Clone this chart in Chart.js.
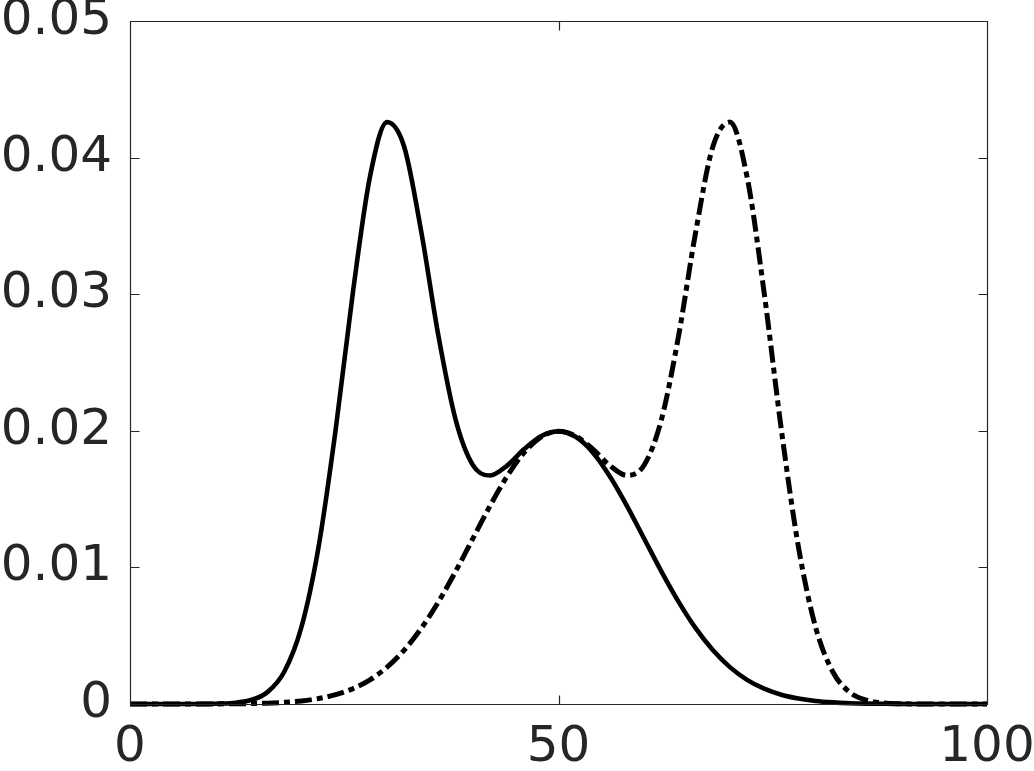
<!DOCTYPE html>
<html lang="en">
<head>
  <meta charset="UTF-8">
  <title>Two densities</title>
  <script src="https://cdn.jsdelivr.net/npm/chart.js"></script>
  <style>
    html, body {
      margin: 0;
      padding: 0;
      background: #fff;
    }
    #wrap {
      width: 1034px;
      height: 771px;
      position: relative;
    }
  </style>
</head>
<body>
<div id="wrap"><canvas id="chart" width="1034" height="771"></canvas></div>
<script>
// x positions (step 2)
const xs = [0, 2, 4, 6, 8, 10, 12, 14, 16, 18, 20, 22, 24, 26, 28, 30, 32, 34, 36, 38, 40,
  42, 44, 46, 48, 50, 52, 54, 56, 58, 60, 62, 64, 66, 68, 70, 72, 74, 76, 78, 80,
  82, 84, 86, 88, 90, 92, 94, 96, 98, 100];

// solid curve (peak near 30)
const solidVals = [0, 0, 0, 0, 0.000005, 0.00002, 0.000076, 0.00027, 0.00085, 0.00236, 0.00562,
  0.01149, 0.0201, 0.03009, 0.0386, 0.0426, 0.04078, 0.03452, 0.02691, 0.0208, 0.0175,
  0.01673, 0.01745, 0.01866, 0.01962, 0.01996, 0.01956, 0.01842, 0.01666, 0.01449, 0.0121,
  0.00971, 0.00749, 0.00555, 0.00395, 0.0027, 0.00177, 0.00112, 0.00068, 0.0004, 0.00022,
  0.00012, 0.00006, 0.00003, 0.000015, 0.000007, 0, 0, 0, 0, 0];

// dash-dot curve (peak near 70)
const dashVals = [0, 0, 0, 0, 0, 0.000007, 0.000015, 0.00003, 0.00006, 0.00012, 0.00022,
  0.0004, 0.00068, 0.00112, 0.00177, 0.0027, 0.00395, 0.00555, 0.00749, 0.00971, 0.0121,
  0.01449, 0.01666, 0.01842, 0.01956, 0.01996, 0.01962, 0.01866, 0.01745, 0.01673, 0.0175,
  0.0208, 0.02691, 0.03452, 0.04078, 0.0426, 0.0386, 0.03009, 0.0201, 0.01149, 0.00562,
  0.00236, 0.00085, 0.00027, 0.000076, 0.00002, 0.000005, 0, 0, 0, 0];

const xTicks = [0, 50, 100];
const yTicks = [0, 0.01, 0.02, 0.03, 0.04, 0.05];

const textColor = '#262626';
const fontSpec = { family: "'DejaVu Sans', sans-serif", size: 50 };

// box and inward tick marks on all four sides
const boxTicks = {
  id: 'boxTicks',
  afterDatasetsDraw(chart) {
    const { ctx, chartArea: a, scales } = chart;
    const L = Math.round(a.left) + 0.5, R = Math.round(a.right) + 0.5;
    const T = Math.round(a.top) + 0.5, B = Math.round(a.bottom) + 0.5;
    ctx.save();
    ctx.strokeStyle = textColor;
    ctx.lineWidth = 1.2;
    ctx.beginPath();
    ctx.rect(L, T, R - L, B - T);
    const len = 9;
    xTicks.forEach(v => {
      const px = Math.round(scales.x.getPixelForValue(v)) + 0.5;
      ctx.moveTo(px, B); ctx.lineTo(px, B - len);
      ctx.moveTo(px, T); ctx.lineTo(px, T + len);
    });
    yTicks.forEach(v => {
      const py = Math.round(scales.y.getPixelForValue(v)) + 0.5;
      ctx.moveTo(L, py); ctx.lineTo(L + len, py);
      ctx.moveTo(R, py); ctx.lineTo(R - len, py);
    });
    ctx.stroke();
    ctx.restore();
  }
};

new Chart(document.getElementById('chart'), {
  type: 'line',
  data: {
    datasets: [
      {
        data: xs.map((x, i) => ({ x, y: solidVals[i] })),
        borderColor: '#000',
        borderWidth: 4.6,
        pointRadius: 0,
        cubicInterpolationMode: 'monotone',
        clip: false
      },
      {
        data: xs.map((x, i) => ({ x, y: dashVals[i] })),
        borderColor: '#000',
        borderWidth: 5,
        borderDash: [17, 5, 6, 5],
        pointRadius: 0,
        cubicInterpolationMode: 'monotone',
        clip: false
      }
    ]
  },
  options: {
    responsive: false,
    animation: false,
    layout: { padding: { top: 21, right: 47, left: 0, bottom: 0 } },
    plugins: {
      legend: { display: false },
      tooltip: { enabled: false }
    },
    scales: {
      x: {
        type: 'linear',
        min: 0,
        max: 100,
        grid: { display: false, drawTicks: false },
        border: { display: false },
        afterBuildTicks: s => { s.ticks = xTicks.map(v => ({ value: v })); },
        afterFit: s => {
          s.height = 67;
          s.paddingLeft = 0; s.paddingRight = 0;
        },
        ticks: { color: textColor, font: fontSpec, padding: 14, maxRotation: 0 }
      },
      y: {
        min: 0,
        max: 0.05,
        grid: { display: false, drawTicks: false },
        border: { display: false },
        afterBuildTicks: s => { s.ticks = yTicks.map(v => ({ value: v })); },
        afterFit: s => {
          s.width = 130;
          s.paddingTop = 0; s.paddingBottom = 0;
        },
        ticks: {
          color: textColor,
          font: fontSpec,
          padding: 18,
          callback: v => v === 0 ? '0' : v.toFixed(2)
        }
      }
    }
  },
  plugins: [boxTicks]
});
</script>
</body>
</html>
